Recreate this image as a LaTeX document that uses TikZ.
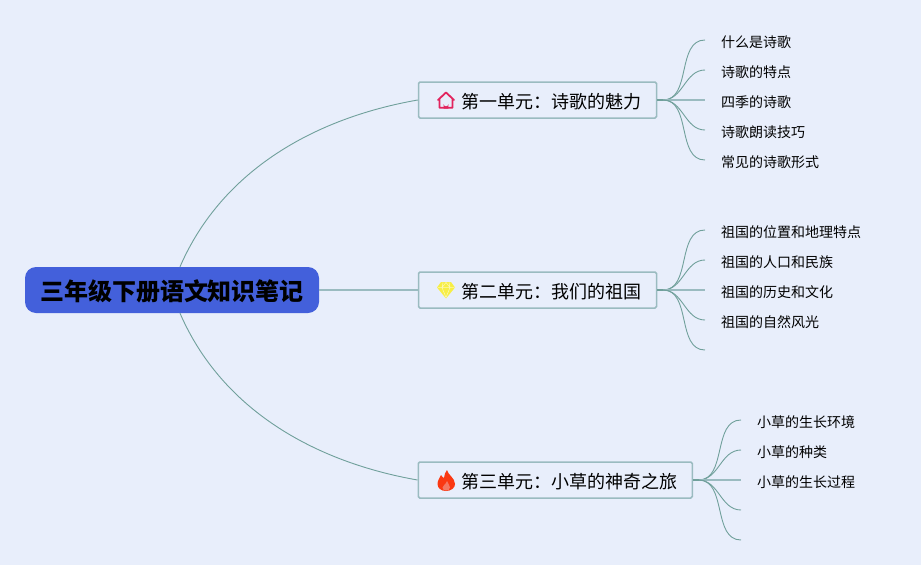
\documentclass[tikz,border=0pt]{standalone}
\usepackage{fontspec}
\setmainfont{Noto Sans CJK SC}
\usepackage{tikz}
\definecolor{paper}{HTML}{E8EEFB}
\definecolor{branchline}{HTML}{70A09B}
\definecolor{unitline}{HTML}{9ABBC0}
\definecolor{rootblue}{HTML}{4360DB}
\definecolor{homered}{HTML}{E2245E}
\definecolor{gemyellow}{HTML}{F7EE45}
\definecolor{flamered}{HTML}{FA3812}

\begin{document}
\begin{tikzpicture}[x=1pt, y=-1pt,
    root/.style = {fill=rootblue, rounded corners=11pt, minimum width=294pt, minimum height=46pt, inner sep=0pt, text height=21pt, text depth=0pt, font=\fontsize{24}{24}\selectfont\bfseries},
    unit/.style = {draw=unitline, line width=1.5pt, rounded corners=1.5pt, fill=paper, minimum height=36pt, inner ysep=0pt, inner xsep=15pt, text height=17pt, text depth=0pt, font=\fontsize{18}{18}\selectfont},
    leaf/.style = {anchor=west, inner ysep=0pt, inner xsep=16pt, text height=14.4pt, text depth=0pt, font=\fontsize{14}{14}\selectfont},
    branch/.style = {draw=branchline, line width=.9pt},
    trunk/.style = {draw=unitline, line width=1.2pt},
    stub/.style = {draw=branchline, line width=1.6pt},
    fan/.style = {branch, out=0, in=180, looseness=1}]
        \fill[paper] (0,0) rectangle (921,565);
        \node[root] (root) at (172,290) {三年级下册语文知识笔记};
        \node[unit] (unit1) at (537.5,100) {\hspace*{28pt}第一单元：诗歌的魅力};
        \node[unit] (unit2) at (537.5,290) {\hspace*{28pt}第二单元：我们的祖国};
        \node[unit] (unit3) at (555.25,480) {\hspace*{28pt}第三单元：小草的神奇之旅};
        \coordinate (hub1) at (663,100);
        \coordinate (hub2) at (663,290);
        \coordinate (hub3) at (698.5,480);
        \node[leaf] (a1) at (705,40) {什么是诗歌};
        \node[leaf] (a2) at (705,70) {诗歌的特点};
        \node[leaf] (a3) at (705,100) {四季的诗歌};
        \node[leaf] (a4) at (705,130) {诗歌朗读技巧};
        \node[leaf] (a5) at (705,160) {常见的诗歌形式};
        \node[leaf] (b1) at (705,230) {祖国的位置和地理特点};
        \node[leaf] (b2) at (705,260) {祖国的人口和民族};
        \node[leaf] (b3) at (705,290) {祖国的历史和文化};
        \node[leaf] (b4) at (705,320) {祖国的自然风光};
        \coordinate (b5) at (705,350);
        \node[leaf] (c1) at (741,420) {小草的生长环境};
        \node[leaf] (c2) at (741,450) {小草的种类};
        \node[leaf] (c3) at (741,480) {小草的生长过程};
        \coordinate (c4) at (741,510);
        \coordinate (c5) at (741,540);
        % root to units
        \draw[branch] (root.71) .. controls (222,170) and (315,118) .. (unit1.west);
        \draw[trunk] (root.east) -- (unit2.west);
        \draw[branch] (root.-71) .. controls (222,410) and (315,462) .. (unit3.west);
        % stubs
        \draw[stub] (unit1.east) -- (hub1);
        \draw[stub] (unit2.east) -- (hub2);
        \draw[stub] (unit3.east) -- (hub3);
        % unit one
        \draw[fan] (hub1) to (a1.west);
        \draw[fan] (hub1) to (a2.west);
        \draw[trunk] (hub1) -- (a3.west);
        \draw[fan] (hub1) to (a4.west);
        \draw[fan] (hub1) to (a5.west);
        % unit two
        \draw[fan] (hub2) to (b1.west);
        \draw[fan] (hub2) to (b2.west);
        \draw[trunk] (hub2) -- (b3.west);
        \draw[fan] (hub2) to (b4.west);
        \draw[fan] (hub2) to (b5);
        % unit three
        \draw[fan] (hub3) to (c1.west);
        \draw[fan] (hub3) to (c2.west);
        \draw[trunk] (hub3) -- (c3.west);
        \draw[fan] (hub3) to (c4);
        \draw[fan] (hub3) to (c5);
        % icons
        \draw[draw=homered, line width=1.8pt, line join=round, line cap=round, fill=paper] (438,100) -- (446,92.5) -- (454,100) (439.5,99) -- (439.5,107.8) -- (452.5,107.8) -- (452.5,99);
        \fill[homered] (443.6,108.5) -- (443.6,104) arc (180:0:2.4) -- (448.4,108.5) -- cycle;
        \fill[gemyellow] (441,282) -- (451,282) -- (455,287.5) -- (446,298.5) -- (437,287.5) -- cycle;
        \draw[white!60!gemyellow, line width=.5pt] (437.5,287.5) -- (454.5,287.5) (442,287.5) -- (446,297.5) -- (450,287.5) (443,282.5) -- (442,287.5) -- (446,282.5) -- (450,287.5) -- (449,282.5);
        \fill[flamered] (447,470) .. controls (448,475) and (455,478) .. (455,484) .. controls (455,488) and (451,491) .. (446,491) .. controls (441,491) and (437.5,488) .. (437.5,484) .. controls (437.5,480) and (440,478) .. (441,475) .. controls (442,476.5) and (443,477.5) .. (444,478) .. controls (444.5,475) and (445,472) .. (447,470) -- cycle;
        \fill[paper!35!flamered] (447,481) .. controls (448,484) and (450,485.5) .. (450,487.5) .. controls (450,489.5) and (448,490.5) .. (446,490.5) .. controls (444,490.5) and (442.5,489.5) .. (442.5,487.5) .. controls (442.5,485.5) and (446,484.5) .. (447,481) -- cycle;
        \useasboundingbox (0,0) rectangle (921,565);
      \end{tikzpicture}
\end{document}
